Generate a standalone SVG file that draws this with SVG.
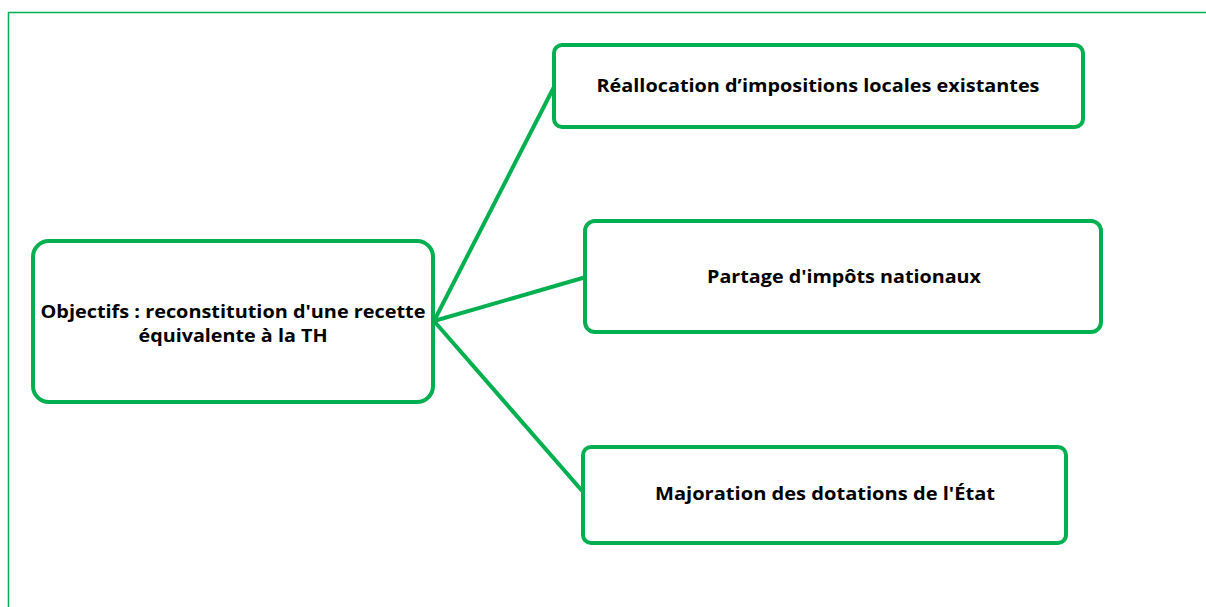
<svg xmlns="http://www.w3.org/2000/svg" width="1206" height="607" viewBox="0 0 1206 607">
<style>
.box{fill:#fff;stroke:#00B050;stroke-width:4}
.lbl{font-family:"Open Sans","Liberation Sans",sans-serif;font-weight:bold;font-size:18.5px;fill:#000;text-anchor:middle}
.conn{stroke:#00B050;stroke-width:4;fill:none}
</style>
<rect x="0" y="0" width="1206" height="607" fill="#fff"/>
<path d="M8.5 610 V12.5 H1210" fill="none" stroke="#00B050" stroke-width="1.5"/>
<g id="connectors">
<line class="conn" x1="434" y1="321" x2="555" y2="85"/>
<line class="conn" x1="434" y1="321" x2="586" y2="277"/>
<line class="conn" x1="434" y1="321" x2="584" y2="493"/>
</g>
<g id="center">
<rect class="box" x="33" y="241" width="400" height="161" rx="16"/>
<text class="lbl" x="233" y="318" textLength="385" lengthAdjust="spacingAndGlyphs">Objectifs : reconstitution d'une recette</text>
<text class="lbl" x="233" y="342" textLength="189" lengthAdjust="spacingAndGlyphs">équivalente à la TH</text>
</g>
<g id="node1">
<rect class="box" x="554" y="45" width="529" height="82" rx="8"/>
<text class="lbl" x="818" y="92" textLength="443" lengthAdjust="spacingAndGlyphs">Réallocation d’impositions locales existantes</text>
</g>
<g id="node2">
<rect class="box" x="585" y="221" width="516" height="111" rx="10"/>
<text class="lbl" x="844" y="283" textLength="274" lengthAdjust="spacingAndGlyphs">Partage d'impôts nationaux</text>
</g>
<g id="node3">
<rect class="box" x="583" y="447" width="483" height="96" rx="8"/>
<text class="lbl" x="825" y="500" textLength="340" lengthAdjust="spacingAndGlyphs">Majoration des dotations de l'État</text>
</g>
</svg>
